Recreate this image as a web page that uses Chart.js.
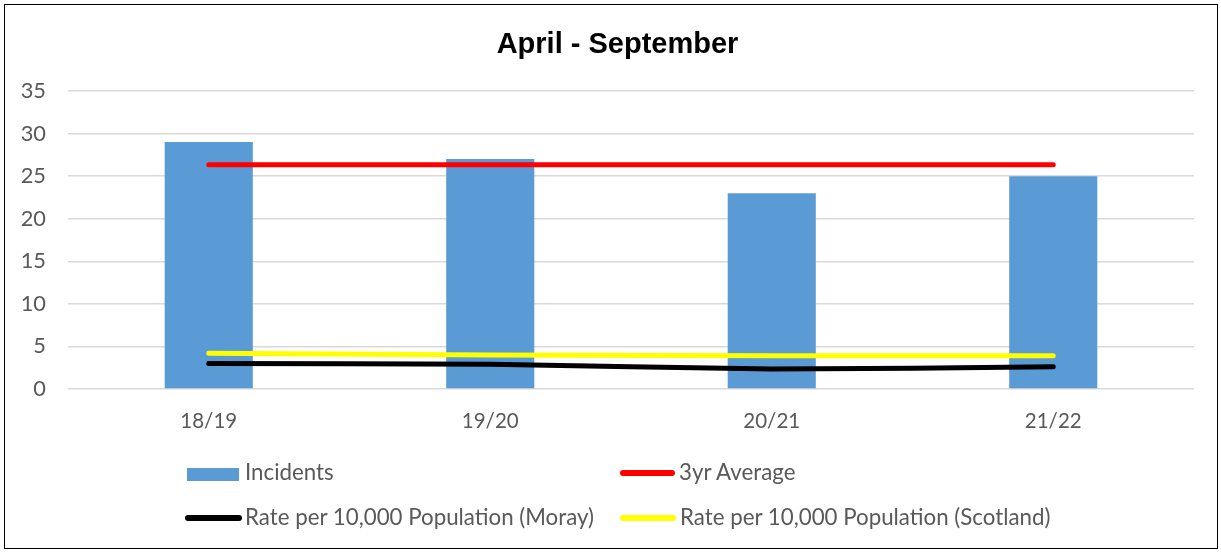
<!DOCTYPE html>
<html>
<head>
<meta charset="utf-8">
<script src="https://cdn.jsdelivr.net/npm/chart.js@4/dist/chart.umd.min.js"></script>
<style>
  html, body { margin: 0; padding: 0; background: #fff; }
  #wrap { position: relative; width: 1221px; height: 552px; overflow: hidden; }
  #frame { position: absolute; left: 4px; top: 4px; width: 1214px; height: 545px; border: 1.5px solid #000; box-sizing: border-box; pointer-events: none; }
  #chartTitle { position: absolute; left: 7px; width: 1221px; top: 27px; height: 29px; line-height: 29px; text-align: center; font: bold 29px "Liberation Sans", Arial, sans-serif; color: #000; }
  canvas { position: absolute; left: 0; top: 0; }
  .leg { position: absolute; font: 22.3px Lato, "Liberation Sans", sans-serif; color: #595959; height: 24px; line-height: 24px; white-space: nowrap; }
  .leg span.t { position: absolute; white-space: nowrap; top: 0; }
</style>
</head>
<body>
<div id="wrap">
  <canvas id="c" width="1221" height="552"></canvas>
  <div id="chartTitle">April - September</div>
  <div id="legend"></div>
  <div id="frame"></div>
</div>
<script>
const categories = ['18/19', '19/20', '20/21', '21/22'];
const incidents = [29, 27, 23, 25];
const threeYearAverage = [26.33, 26.33, 26.33, 26.33];
const rateMoray = [3.0, 2.9, 2.35, 2.6];
const rateScotland = [4.2, 4.0, 3.9, 3.9];
const yTicks = [0, 5, 10, 15, 20, 25, 30, 35];

const tickColor = '#595959';
const gridColor = '#d9d9d9';

const chart = new Chart(document.getElementById('c'), {
  type: 'bar',
  data: {
    labels: categories,
    datasets: [
      { type: 'bar', label: 'Incidents', data: incidents, backgroundColor: '#5b9bd5', borderWidth: 0, barPercentage: 0.313, categoryPercentage: 1.0, order: 5 },
      { type: 'line', label: '3yr Average', data: threeYearAverage, borderColor: '#ff0000', backgroundColor: '#ff0000', borderWidth: 5, pointRadius: 0, borderCapStyle: 'round', tension: 0, order: 3 },
      { type: 'line', label: 'Rate per 10,000 Population (Moray)', data: rateMoray, borderColor: '#000000', backgroundColor: '#000000', borderWidth: 5, pointRadius: 0, borderCapStyle: 'round', tension: 0.2, order: 2 },
      { type: 'line', label: 'Rate per 10,000 Population (Scotland)', data: rateScotland, borderColor: '#ffff00', backgroundColor: '#ffff00', borderWidth: 5, pointRadius: 0, borderCapStyle: 'round', tension: 0, order: 1 }
    ]
  },
  options: {
    responsive: false,
    animation: false,
    layout: { padding: { left: 0, right: 27, top: 91, bottom: 0 } },
    plugins: { legend: { display: false }, title: { display: false }, tooltip: { enabled: false } },
    scales: {
      x: {
        grid: { display: false, drawTicks: false },
        border: { display: false },
        ticks: { color: tickColor, font: { family: 'Lato', size: 20.5 }, padding: 20 },
        afterFit: s => { s.height = 552 - 389; }
      },
      y: {
        min: 0, max: 35,
        afterBuildTicks: s => { s.ticks = yTicks.map(v => ({ value: v })); },
        grid: { color: gridColor, lineWidth: 1.5, drawTicks: false },
        border: { display: false },
        ticks: { color: tickColor, font: { family: 'Lato', size: 21.8 }, padding: 22 },
        afterFit: s => { s.width = 68; }
      }
    }
  }
});

// HTML legend built from the chart's datasets
const legendPos = [
  { x: 187, y: 460.4, w: 52, tx: 245 },
  { x: 620, y: 460.4, w: 55, tx: 679 },
  { x: 185, y: 505.4, w: 57, tx: 245 },
  { x: 620, y: 505.4, w: 56, tx: 680 }
];
const legendEl = document.getElementById('legend');
chart.data.datasets.forEach((ds, i) => {
  const p = legendPos[i];
  const item = document.createElement('div');
  item.className = 'leg';
  item.style.left = p.x + 'px';
  item.style.top = p.y + 'px';
  const sw = document.createElement('div');
  if (ds.type === 'bar') {
    sw.style.cssText = `position:absolute;left:0;top:7.3px;width:${p.w}px;height:13px;background:${ds.backgroundColor};`;
  } else {
    sw.style.cssText = `position:absolute;left:0;top:10px;width:${p.w}px;height:6px;border-radius:3px;background:${ds.borderColor};`;
  }
  const t = document.createElement('span');
  t.className = 't';
  t.style.left = (p.tx - p.x) + 'px';
  t.textContent = ds.label;
  item.appendChild(sw);
  item.appendChild(t);
  legendEl.appendChild(item);
});
</script>
</body>
</html>
